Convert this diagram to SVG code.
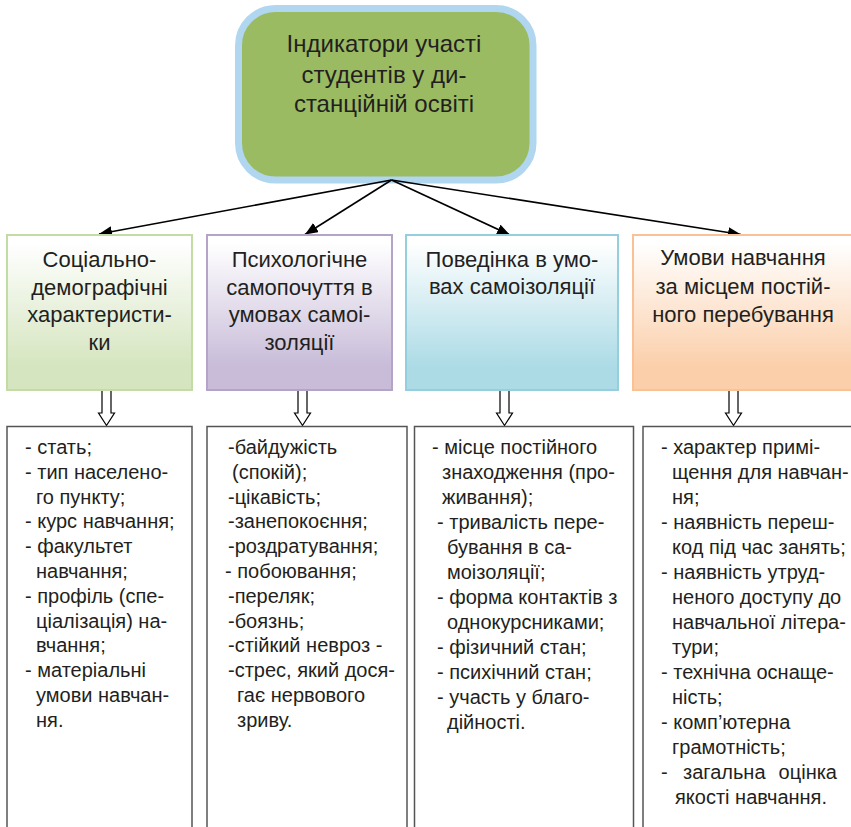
<svg xmlns="http://www.w3.org/2000/svg" width="851" height="827" viewBox="0 0 851 827">
<defs>
<linearGradient id="gGreen" x1="0" y1="0" x2="0" y2="1"><stop offset="0.05" stop-color="#ffffff"/><stop offset="0.85" stop-color="#d5e5bf"/></linearGradient>
<linearGradient id="gPurple" x1="0" y1="0" x2="0" y2="1"><stop offset="0.05" stop-color="#ffffff"/><stop offset="0.85" stop-color="#c8bcd9"/></linearGradient>
<linearGradient id="gBlue" x1="0" y1="0" x2="0" y2="1"><stop offset="0.05" stop-color="#ffffff"/><stop offset="0.85" stop-color="#acdbe6"/></linearGradient>
<linearGradient id="gOrange" x1="0" y1="0" x2="0" y2="1"><stop offset="0.05" stop-color="#ffffff"/><stop offset="0.85" stop-color="#fbcfaa"/></linearGradient>
<marker id="ahBig" viewBox="0 0 12 10" refX="12" refY="5" markerWidth="13" markerHeight="11" markerUnits="userSpaceOnUse" orient="auto"><path d="M0,0 L12,5 L0,10 z" fill="#000"/></marker>
</defs>
<style>
text{font-family:"Liberation Sans",Arial,sans-serif;fill:#231f20}
.t0{font-size:24px;text-anchor:middle}
.t1{font-size:22px;text-anchor:middle}
.l{font-size:20px}
.box{stroke-width:2}
.list{fill:#fff;stroke:#555;stroke-width:1.5}
.hol{fill:#fff;stroke:#000;stroke-width:1.2}
.con{stroke:#000;stroke-width:1.6;fill:none}
</style>
<rect width="851" height="827" fill="#fff"/>

<g id="root">
<rect x="238.5" y="8.5" width="294.5" height="171.5" rx="37" ry="37" fill="#9bbb62" stroke="#b0d6f0" stroke-width="7"/>
<text class="t0" x="384" y="52">Індикатори участі</text>
<text class="t0" x="384" y="83">студентів у ди-</text>
<text class="t0" x="384" y="112">станційній освіті</text>
</g>

<g id="connectors">
<line class="con" x1="391.5" y1="180" x2="99" y2="234" marker-end="url(#ahBig)"/>
<line class="con" x1="391.5" y1="180" x2="305" y2="234.5" marker-end="url(#ahBig)"/>
<line class="con" x1="391.5" y1="180" x2="510" y2="235" marker-end="url(#ahBig)"/>
<line class="con" x1="391.5" y1="180" x2="741" y2="234.5" marker-end="url(#ahBig)"/>
<path class="hol" d="M102,390.5 H111 V413 H114.5 L106.5,425.5 L98.5,413 H102 Z"/>
<path class="hol" d="M298,390.5 H307 V413 H310.5 L302.5,425.5 L294.5,413 H298 Z"/>
<path class="hol" d="M500,390.5 H509 V413 H512.5 L504.5,425.5 L496.5,413 H500 Z"/>
<path class="hol" d="M729,390.5 H738 V413 H741.5 L733.5,425.5 L725.5,413 H729 Z"/>
</g>

<g id="cat1">
<rect class="box" x="7" y="235" width="185" height="155" fill="url(#gGreen)" stroke="#c3dca6"/>
<text class="t1" x="99.5" y="267">Соціально-</text>
<text class="t1" x="99.5" y="295">демографічні</text>
<text class="t1" x="99.5" y="322">характеристи-</text>
<text class="t1" x="99.5" y="349.5">ки</text>
</g>
<g id="cat2">
<rect class="box" x="207" y="235" width="185" height="155" fill="url(#gPurple)" stroke="#b4a5c8"/>
<text class="t1" x="299.5" y="267">Психологічне</text>
<text class="t1" x="299.5" y="295">самопочуття в</text>
<text class="t1" x="299.5" y="322">умовах самоі-</text>
<text class="t1" x="299.5" y="349.5">золяції</text>
</g>
<g id="cat3">
<rect class="box" x="406" y="235" width="212" height="155" fill="url(#gBlue)" stroke="#95cfdd"/>
<text class="t1" x="512" y="267">Поведінка в умо-</text>
<text class="t1" x="512" y="294">вах самоізоляції</text>
</g>
<g id="cat4">
<rect class="box" x="633" y="235" width="222" height="155" fill="url(#gOrange)" stroke="#f9c195"/>
<text class="t1" x="743" y="265">Умови навчання</text>
<text class="t1" x="743" y="294">за місцем постій-</text>
<text class="t1" x="743" y="322">ного перебування</text>
</g>

<g id="list1">
<rect class="list" x="7" y="426.5" width="185" height="420"/>
<text class="l" x="25" y="454">- стать;</text>
<text class="l" x="25" y="478.8">- тип населено-</text>
<text class="l" x="36" y="503.6">го пункту;</text>
<text class="l" x="25" y="528.4">- курс навчання;</text>
<text class="l" x="25" y="553.2">- факультет</text>
<text class="l" x="36" y="578">навчання;</text>
<text class="l" x="25" y="602.8">- профіль (спе-</text>
<text class="l" x="36" y="627.6">ціалізація) на-</text>
<text class="l" x="36" y="652.4">вчання;</text>
<text class="l" x="25" y="677.2">- матеріальні</text>
<text class="l" x="36" y="702">умови навчан-</text>
<text class="l" x="36" y="726.8">ня.</text>
</g>
<g id="list2">
<rect class="list" x="207" y="426.5" width="200" height="420"/>
<text class="l" x="228" y="454">-байдужість</text>
<text class="l" x="232" y="478.8">(спокій);</text>
<text class="l" x="228" y="503.6">-цікавість;</text>
<text class="l" x="228" y="528.4">-занепокоєння;</text>
<text class="l" x="228" y="553.2">-роздратування;</text>
<text class="l" x="225" y="578">- побоювання;</text>
<text class="l" x="228" y="602.8">-переляк;</text>
<text class="l" x="228" y="627.6">-боязнь;</text>
<text class="l" x="228" y="652.4">-стійкий невроз -</text>
<text class="l" x="228" y="677.2">-стрес, який дося-</text>
<text class="l" x="237" y="702">гає нервового</text>
<text class="l" x="237" y="726.8">зриву.</text>
</g>
<g id="list3">
<rect class="list" x="414.5" y="426.5" width="219" height="420"/>
<text class="l" x="432" y="454">- місце постійного</text>
<text class="l" x="442" y="479">знаходження (про-</text>
<text class="l" x="442" y="504">живання);</text>
<text class="l" x="437" y="529">- тривалість пере-</text>
<text class="l" x="447" y="554">бування в са-</text>
<text class="l" x="447" y="579">моізоляції;</text>
<text class="l" x="437" y="604">- форма контактів з</text>
<text class="l" x="447" y="629">однокурсниками;</text>
<text class="l" x="437" y="654">- фізичний стан;</text>
<text class="l" x="437" y="679">- психічний стан;</text>
<text class="l" x="437" y="704">- участь у благо-</text>
<text class="l" x="447" y="729">дійності.</text>
</g>
<g id="list4">
<rect class="list" x="643" y="426.5" width="220" height="420"/>
<text class="l" x="661" y="454">- характер примі-</text>
<text class="l" x="672" y="479">щення для навчан-</text>
<text class="l" x="672" y="504">ня;</text>
<text class="l" x="661" y="529">- наявність переш-</text>
<text class="l" x="672" y="554">код під час занять;</text>
<text class="l" x="661" y="579">- наявність утруд-</text>
<text class="l" x="672" y="604">неного доступу до</text>
<text class="l" x="672" y="629">навчальної літера-</text>
<text class="l" x="672" y="654">тури;</text>
<text class="l" x="661" y="679">- технічна оснаще-</text>
<text class="l" x="672" y="704">ність;</text>
<text class="l" x="661" y="729">- комп’ютерна</text>
<text class="l" x="672" y="754">грамотність;</text>
<text class="l" x="661" y="779">-</text>
<text class="l" x="683" y="779">загальна</text>
<text class="l" x="837" y="779" text-anchor="end">оцінка</text>
<text class="l" x="675" y="804">якості навчання.</text>
</g>
</svg>
